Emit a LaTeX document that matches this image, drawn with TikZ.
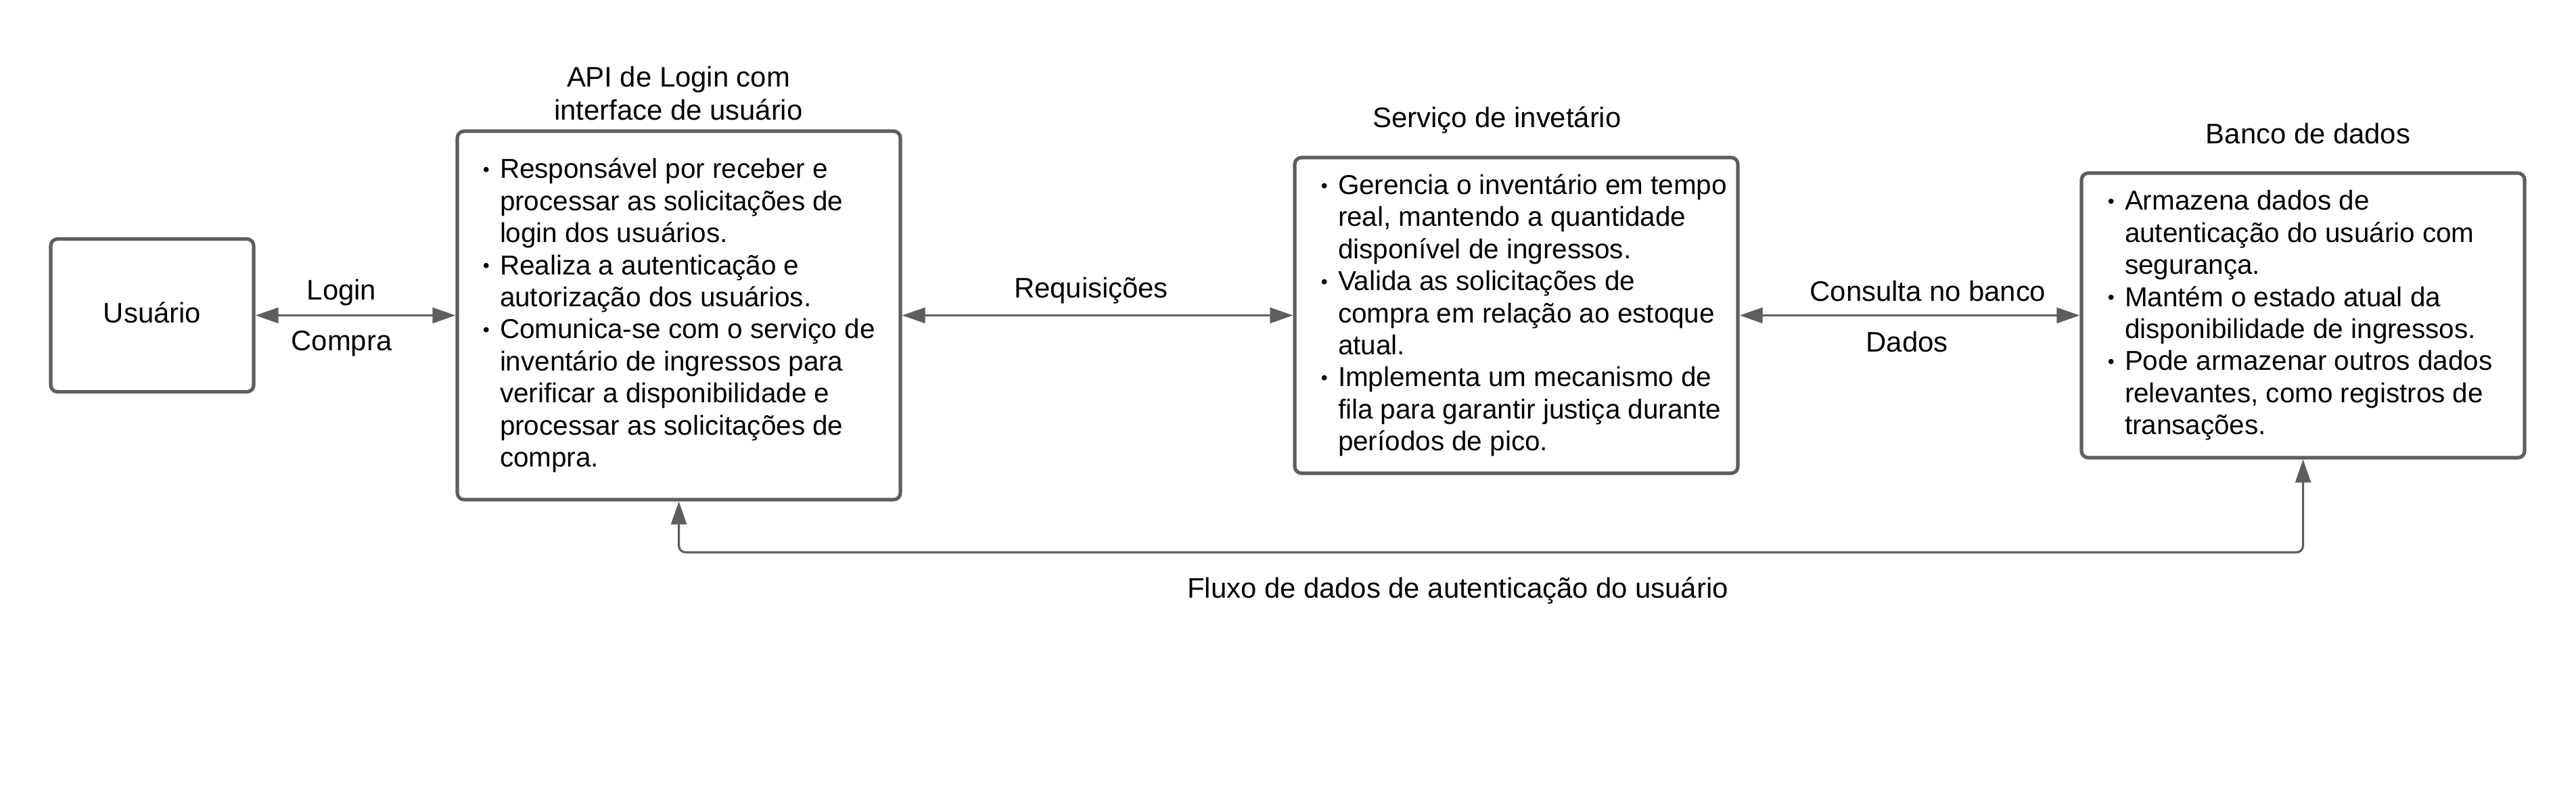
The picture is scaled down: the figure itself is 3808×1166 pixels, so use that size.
\documentclass[tikz,border=0pt]{standalone}
\usepackage{fontspec}
\setmainfont{Liberation Sans}
\usepackage{tikz}
\usetikzlibrary{arrows.meta}
\definecolor{linegray}{RGB}{94,94,94}
\newcommand{\bitem}{\makebox[6.3pt][l]{\raisebox{0.8pt}{\scriptsize\textbullet}}}
\newcommand{\bskip}{\hspace*{6.3pt}}

\begin{document}
\begin{tikzpicture}[x=0.25pt,y=0.25pt,yscale=-1,xscale=1,
    box/.style={draw=linegray,line width=1.3pt,rounded corners=2.5pt,inner sep=0pt},
    txt/.style={font=\fontsize{10.1}{11.85}\selectfont,inner sep=0pt},
    lbl/.style={font=\fontsize{10.45}{12.1}\selectfont,inner sep=0pt},
    link/.style={draw=linegray,line width=0.8pt,{Triangle[length=8.5pt,width=5.7pt]}-{Triangle[length=8.5pt,width=5.7pt]}}]
\useasboundingbox (0,0) rectangle (3808,1166);

% Boxes
\node (user) at (225,466.5) [box,minimum width=75pt,minimum height=56.5pt] {};
\node (api) at (1003.5,466.5) [box,minimum width=163.75pt,minimum height=136.25pt] {};
\node (serv) at (2241.5,466.5) [box,minimum width=163.75pt,minimum height=116.75pt] {};
\node (banco) at (3404.5,466.5) [box,minimum width=163.75pt,minimum height=105.25pt] {};

% Text Node
\node (usertxt) at (225,462) [lbl] {Usuário};
% Text Node
\node (apitxt) at (713,466.5) [txt,anchor=west,align=left] {\bitem Responsável por receber e\\
\bskip processar as solicitações de\\
\bskip login dos usuários.\\
\bitem Realiza a autenticação e\\
\bskip autorização dos usuários.\\
\bitem Comunica-se com o serviço de\\
\bskip inventário de ingressos para\\
\bskip verificar a disponibilidade e\\
\bskip processar as solicitações de\\
\bskip compra.};
% Text Node
\node (servtxt) at (1952,466.5) [txt,anchor=west,align=left] {\bitem Gerencia o inventário em tempo\\
\bskip real, mantendo a quantidade\\
\bskip disponível de ingressos.\\
\bitem Valida as solicitações de\\
\bskip compra em relação ao estoque\\
\bskip atual.\\
\bitem Implementa um mecanismo de\\
\bskip fila para garantir justiça durante\\
\bskip períodos de pico.};
% Text Node
\node (bancotxt) at (3115,466.5) [txt,anchor=west,align=left] {\bitem Armazena dados de\\
\bskip autenticação do usuário com\\
\bskip segurança.\\
\bitem Mantém o estado atual da\\
\bskip disponibilidade de ingressos.\\
\bitem Pode armazenar outros dados\\
\bskip relevantes, como registros de\\
\bskip transações.};

% Titles
\node (apititle) at (1003,138) [lbl,align=center] {API de Login com\\interface de usuário};
\node (servtitle) at (2213,178) [lbl] {Serviço de invetário};
\node (bancotitle) at (3412,198) [lbl] {Banco de dados};

% Connectors
\draw [link] (user) -- (api);
\draw [link] (api) -- (serv);
\draw [link] (serv) -- (banco);
\coordinate (fluxoy) at (2155,817);
\draw [link,rounded corners=2.5pt] (api.south) -- (api.south |- fluxoy) -| (banco.south);

% Connector labels
\node (login) at (505,433) [lbl] {Login};
\node (compra) at (505,508) [lbl] {Compra};
\node (req) at (1613,430) [lbl] {Requisições};
\node (consulta) at (2850,431) [lbl] {Consulta no banco};
\node (dados) at (2819,506) [lbl] {Dados};
\node (fluxo) at (2155,874) [lbl] {Fluxo de dados de autenticação do usuário};
\end{tikzpicture}
\end{document}
